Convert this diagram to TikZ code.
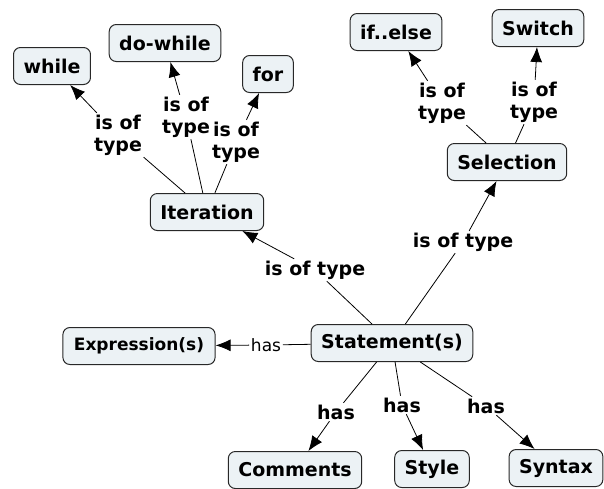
\documentclass[tikz,border=0pt]{standalone}
\usepackage{fontspec}
\setmainfont{DejaVu Sans}
\usetikzlibrary{arrows.meta}
\usetikzlibrary{positioning}
\definecolor{boxfill}{RGB}{236,242,245}
\definecolor{boxline}{RGB}{40,40,40}
\tikzset{concept/.style = {draw = boxline, fill = boxfill, rounded corners = 7pt, line width = 1pt,
                           inner xsep = 10pt, minimum height = 37pt, font = \fontsize{19}{22}\selectfont\bfseries}}
\tikzset{link/.style = {align = center, inner sep = 1.5pt, font = \fontsize{19}{22}\selectfont\bfseries}}
\tikzset{thin link/.style = {inner sep = 1.5pt, font = \fontsize{17}{20}\selectfont}}
\tikzset{->/.style = {-{Latex[length = 15pt, width = 12pt]}}}

\begin{document}
\begin{tikzpicture}[x = 1pt, y = -1pt, line width = 0.8pt]
      \useasboundingbox (0, 0) rectangle (604, 488);
      \node [concept] (while)    at (52, 66)   {while};
      \node [concept] (dowhile)  at (165, 43)  {do-while};
      \node [concept] (for)      at (268, 74)  {for};
      \node [concept] (iter)     at (207, 212) {Iteration};
      \node [concept] (ifelse)   at (396, 32)  {if..else};
      \node [concept] (switch)   at (538, 28)  {Switch};
      \node [concept] (sel)      at (507, 162) {Selection};
      \node [concept, inner xsep = 11pt, font = \fontsize{17}{20}\selectfont\bfseries]
                      (expr)     at (139, 346) {Expression(s)};
      \node [concept] (stmt)     at (392, 343) {Statement(s)};
      \node [concept] (comments) at (295, 470) {Comments};
      \node [concept] (style)    at (432, 469) {Style};
      \node [concept] (syntax)   at (556, 468) {Syntax};
      \node [link] (lwhile)   at (118, 135) {is of\\type};
      \node [link] (ldowhile) at (186, 117) {is of\\type};
      \node [link] (lfor)     at (236, 142) {is of\\type};
      \node [link] (lifelse)  at (442, 103) {is of\\type};
      \node [link] (lswitch)  at (534, 102) {is of\\type};
      \node [link] (lsel)     at (463, 242) {is of type};
      \node [link] (liter)    at (315, 270) {is of type};
      \node [thin link] (lexpr) at (266, 345) {has};
      \node [link] (lcom)     at (336, 412) {has};
      \node [link] (lstyle)   at (402, 405) {has};
      \node [link] (lsyn)     at (486, 406) {has};
      \draw (iter) -- (lwhile);
      \draw [->] (lwhile) -- (while);
      \draw (iter) -- (ldowhile);
      \draw [->] (ldowhile) -- (dowhile);
      \draw (iter) -- (lfor);
      \draw [->] (lfor) -- (for);
      \draw (sel) -- (lifelse);
      \draw [->] (lifelse) -- (ifelse);
      \draw (sel) -- (lswitch);
      \draw [->] (lswitch) -- (switch);
      \draw (stmt) -- (lsel);
      \draw [->] (lsel) -- (sel);
      \draw (stmt) -- (liter);
      \draw [->] (liter) -- (iter);
      \draw (stmt) -- (lexpr);
      \draw [->] (lexpr) -- (expr);
      \draw (stmt) -- (lcom);
      \draw [->] (lcom) -- (comments);
      \draw (stmt) -- (lstyle);
      \draw [->] (lstyle) -- (style);
      \draw (stmt) -- (lsyn);
      \draw [->] (lsyn) -- (syntax);
    \end{tikzpicture}
\end{document}
